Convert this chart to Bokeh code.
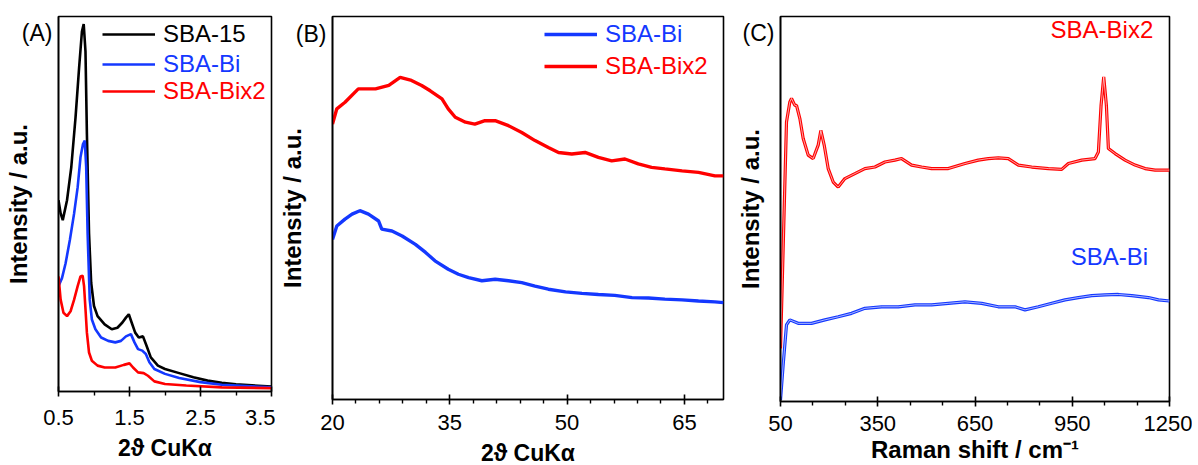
from bokeh.plotting import figure
from bokeh.layouts import row
from bokeh.models import Range1d, FixedTicker, Label, Legend, LegendItem
from bokeh.embed import file_html
from bokeh.resources import INLINE

# ---------------- data ----------------
# Panel A: low-angle XRD
a_x_sba15 = [0.50, 0.53, 0.56, 0.62, 0.68, 0.74, 0.79, 0.83, 0.855, 0.88, 0.90, 0.93, 0.96, 1.00, 1.05,
             1.15, 1.25, 1.33, 1.40, 1.45, 1.49, 1.53, 1.58, 1.63, 1.69, 1.74, 1.80, 1.90, 2.00, 2.20,
             2.40, 2.60, 2.80, 3.00, 3.50]
a_y_sba15 = [51.0, 47.5, 45.7, 51.0, 59.8, 73.1, 86.3, 96.0, 98.0, 90.7, 68.7, 42.2, 29.0, 22.8, 20.1,
             17.9, 16.6, 17.0, 18.4, 19.7, 20.6, 18.4, 15.7, 14.4, 14.7, 12.2, 9.1, 6.9, 6.0, 4.9,
             3.8, 2.9, 2.3, 1.9, 1.3]
a_x_bi = [0.50, 0.55, 0.60, 0.66, 0.72, 0.77, 0.81, 0.845, 0.87, 0.89, 0.91, 0.94, 0.97, 1.02, 1.10,
          1.20, 1.30, 1.38, 1.45, 1.52, 1.57, 1.62, 1.68, 1.73, 1.78, 1.85, 2.00, 2.20, 2.50, 2.80, 3.50]
a_y_bi = [28.1, 30.3, 34.2, 40.4, 47.5, 54.5, 62.5, 66.0, 66.9, 59.8, 42.2, 24.5, 19.2, 16.6, 14.4,
          13.5, 13.1, 13.5, 14.7, 15.3, 13.1, 11.3, 10.9, 10.0, 7.8, 6.0, 4.7, 3.6, 2.5, 1.8, 1.1]
a_x_bix2 = [0.50, 0.53, 0.57, 0.62, 0.67, 0.72, 0.77, 0.81, 0.84, 0.86, 0.88, 0.90, 0.93, 0.97, 1.05,
            1.15, 1.30, 1.42, 1.50, 1.55, 1.62, 1.70, 1.76, 1.85, 2.00, 2.30, 2.80, 3.50]
a_y_bix2 = [30.7, 24.5, 21.0, 20.1, 21.4, 24.5, 28.1, 30.7, 30.9, 28.1, 22.0, 15.7, 10.4, 8.2, 6.9,
            6.4, 6.4, 7.1, 7.5, 6.4, 5.1, 4.9, 4.2, 2.7, 2.0, 1.6, 1.1, 0.9]

# Panel B: wide-angle XRD
b_x_bix2 = [20.0, 20.55, 21.6, 23.3, 25.5, 27.2, 28.65, 30.1, 31.4, 32.5, 34.0, 34.8, 35.7, 37.0, 38.2,
            39.5, 40.8, 42.5, 44.2, 45.9, 47.6, 48.9, 50.6, 52.3, 54.0, 55.7, 57.4, 59.1, 60.8, 62.5,
            64.7, 66.8, 68.9, 70.0]
b_y_bix2 = [71.9, 75.9, 77.6, 81.1, 81.1, 82.0, 84.1, 83.3, 82.0, 80.6, 78.5, 75.9, 73.7, 72.4, 71.9,
            72.8, 72.8, 71.5, 69.7, 67.6, 65.8, 64.5, 64.1, 64.5, 63.2, 62.3, 62.8, 61.5, 60.6, 60.2,
            59.7, 59.3, 58.4, 58.4]
b_x_bi = [20.0, 20.55, 21.6, 22.5, 23.5, 24.6, 25.9, 26.3, 27.6, 28.9, 30.6, 31.9, 33.1, 34.8, 36.1,
          37.4, 39.1, 40.8, 42.5, 44.2, 45.9, 47.6, 49.8, 51.9, 54.0, 56.1, 58.3, 60.4, 62.5, 64.7,
          66.8, 68.9, 70.0]
b_y_bi = [41.8, 45.3, 47.1, 48.4, 49.3, 48.4, 46.6, 44.5, 44.0, 42.7, 40.5, 38.4, 36.2, 34.0, 32.7,
          31.8, 31.0, 31.4, 31.0, 30.5, 29.6, 28.8, 28.1, 27.7, 27.4, 27.2, 26.6, 26.5, 26.2, 26.0,
          25.7, 25.5, 25.3]

# Panel C: Raman
c_x_bix2 = [50, 68.5, 78.8, 84, 94.2, 99.4, 109.7, 120, 135.4, 150.8, 166.3, 174.5, 184.8, 197.1, 212.6,
            228, 248.6, 279.5, 310.3, 341.2, 372.1, 403, 423.5, 454.4, 485.3, 516.1, 567.6, 619, 660.2,
            691.1, 721.9, 752.8, 783.7, 824.8, 876.3, 917.5, 938, 979.2, 1020.3, 1030.6, 1038.9, 1047.1,
            1055.3, 1061.5, 1082.1, 1112.9, 1143.8, 1174.7, 1205.6, 1236.4, 1250]
c_y_bix2 = [13.8, 72.6, 77.8, 78.7, 76.9, 76.9, 73.5, 68.3, 64.0, 63.1, 66.6, 70.4, 66.6, 60.5, 57.0,
            55.7, 57.9, 59.2, 60.5, 60.9, 62.2, 62.7, 63.1, 61.4, 60.9, 60.5, 60.5, 61.8, 62.7,
            63.1, 63.3, 63.1, 61.4, 60.9, 60.5, 60.3, 61.8, 62.7, 63.1, 64.8, 76.9, 84.3,
            76.9, 65.7, 64.4, 62.7, 61.4, 60.5, 60.1, 60.1, 60.1]
c_x_bi = [50, 58.2, 68.5, 78.8, 104.5, 145.7, 186.9, 228, 269.2, 310.3, 361.8, 413.2, 464.7, 516.1,
          567.6, 619, 670.5, 721.9, 773.4, 804.3, 845.4, 886.6, 927.7, 968.9, 1010, 1051.2, 1092.4,
          1133.5, 1185, 1215.9, 1250]
c_y_bi = [0.4, 9.5, 19.9, 21.2, 20.3, 20.3, 21.2, 22.0, 22.9, 24.2, 24.6, 24.6, 25.1, 25.1,
          25.5, 25.9, 25.5, 24.6, 24.6, 23.8, 24.6, 25.5, 26.4, 27.0, 27.5, 27.7, 27.8,
          27.5, 27.0, 26.4, 26.1]

a_ticks = [0.5, 1.5, 2.5, 3.5]
a_minor = [1.0, 2.0, 3.0]
b_ticks = [20, 35, 50, 65]
b_minor = [23, 26, 29, 32, 38, 41, 44, 47, 53, 56, 59, 62, 68]
c_ticks = [50, 350, 650, 950, 1250]
c_minor = [150, 250, 450, 550, 750, 850, 1050, 1150]

BLACK = "#000000"
BLUE = "#1438ff"
RED = "#ff0000"
FONT = "Liberation Sans"


def make_fig(fw, fh, bl, br, bt, bb, xr, ticks, minor, xlabel, xlabel_size,
             tick_stand, label_stand, panel_text, panel_y, ystand):
    p = figure(frame_width=fw, frame_height=fh,
               min_border_left=bl, min_border_right=br, min_border_top=bt, min_border_bottom=bb,
               x_range=Range1d(*xr), y_range=Range1d(0, 100),
               output_backend="svg", toolbar_location=None)
    p.xgrid.visible = False
    p.ygrid.visible = False
    p.outline_line_color = "black"
    p.outline_line_width = 1.6
    p.background_fill_color = "white"
    p.border_fill_color = "white"

    xa = p.xaxis[0]
    xa.ticker = FixedTicker(ticks=ticks, minor_ticks=minor)
    xa.axis_line_width = 1.6
    xa.major_tick_line_width = 1.6
    xa.minor_tick_line_width = 1.4
    xa.major_tick_in = 5
    xa.major_tick_out = 5
    xa.minor_tick_in = 0
    xa.minor_tick_out = 4
    xa.major_label_standoff = tick_stand
    xa.major_label_text_font = FONT
    xa.major_label_text_font_size = "22px"
    xa.major_label_text_color = "black"
    xa.axis_label = xlabel
    xa.axis_label_text_font = FONT
    xa.axis_label_text_font_size = xlabel_size
    xa.axis_label_text_font_style = "bold"
    xa.axis_label_text_color = "black"
    xa.axis_label_standoff = label_stand

    # y axis: no numeric ticks; the panel letter sits in the left margin
    ya = p.yaxis[0]
    ya.ticker = FixedTicker(ticks=[panel_y], minor_ticks=[])
    ya.major_label_overrides = {panel_y: panel_text}
    ya.axis_line_width = 1.6
    ya.major_tick_in = 0
    ya.major_tick_out = 0
    ya.minor_tick_in = 0
    ya.minor_tick_out = 0
    ya.major_label_standoff = 6
    ya.major_label_text_font = FONT
    ya.major_label_text_font_size = "23px"
    ya.major_label_text_color = "black"
    ya.axis_label = "Intensity / a.u."
    ya.axis_label_text_font = FONT
    ya.axis_label_text_font_size = "24px"
    ya.axis_label_text_font_style = "bold"
    ya.axis_label_text_color = "black"
    ya.axis_label_standoff = ystand
    return p


def add_legend(p, label, rend, color, loc):
    leg = Legend(items=[LegendItem(label=label, renderers=[rend])], location=loc,
                 glyph_width=53, glyph_height=20, label_standoff=8, padding=0, margin=0,
                 spacing=0, border_line_color=None, background_fill_alpha=0,
                 label_text_font=FONT, label_text_font_size="24px", label_text_color=color)
    p.add_layout(leg)


# ---------------- Panel A ----------------
pA = make_fig(213, 375, 58, 4, 16, 73, (0.5, 3.5), a_ticks, a_minor, "2ϑ CuKα", "23px",
              13, 7, "(A)", 95.5, -13)
rA1 = pA.line(a_x_sba15, a_y_sba15, line_color=BLACK, line_width=2.6)
rA2 = pA.line(a_x_bi, a_y_bi, line_color=BLUE, line_width=2.6)
rA3 = pA.line(a_x_bix2, a_y_bix2, line_color=RED, line_width=2.6)
add_legend(pA, "SBA-15", rA1, BLACK, (44, 343))
add_legend(pA, "SBA-Bi", rA2, BLUE, (44, 313))
add_legend(pA, "SBA-Bix2", rA3, RED, (44, 286))

# ---------------- Panel B ----------------
pB = make_fig(391, 383, 56, 10, 11, 70, (20, 70), b_ticks, b_minor, "2ϑ CuKα", "23px",
              10, 7, "(B)", 95.5, -13)
rB1 = pB.line(b_x_bi, b_y_bi, line_color=BLUE, line_width=3.4)
rB2 = pB.line(b_x_bix2, b_y_bix2, line_color=RED, line_width=3.4)
add_legend(pB, "SBA-Bi", rB1, BLUE, (212, 351))
add_legend(pB, "SBA-Bix2", rB2, RED, (212, 319))

# ---------------- Panel C ----------------
pC = make_fig(389, 385, 46, 23, 11, 68, (50, 1250), c_ticks, c_minor, "Raman shift / cm⁻¹", "24px",
              9, 2, "(C)", 95.8, -24)
# Raman traces drawn as outlined (hollow) strokes, as in the original
pC.line(c_x_bix2, c_y_bix2, line_color=RED, line_width=3.2)
pC.line(c_x_bix2, c_y_bix2, line_color="white", line_width=0.8, line_alpha=0.8)
pC.line(c_x_bi, c_y_bi, line_color=BLUE, line_width=3.2)
pC.line(c_x_bi, c_y_bi, line_color="white", line_width=0.8, line_alpha=0.8)
pC.add_layout(Label(x=883, y=96.6, text="SBA-Bix2", text_font=FONT, text_font_size="24px",
                    text_color=RED, text_baseline="alphabetic"))
pC.add_layout(Label(x=945, y=37.6, text="SBA-Bi", text_font=FONT, text_font_size="24px",
                    text_color=BLUE, text_baseline="alphabetic"))

layout = row(pA, pB, pC)
open("out.html", "w").write(file_html(layout, INLINE))
